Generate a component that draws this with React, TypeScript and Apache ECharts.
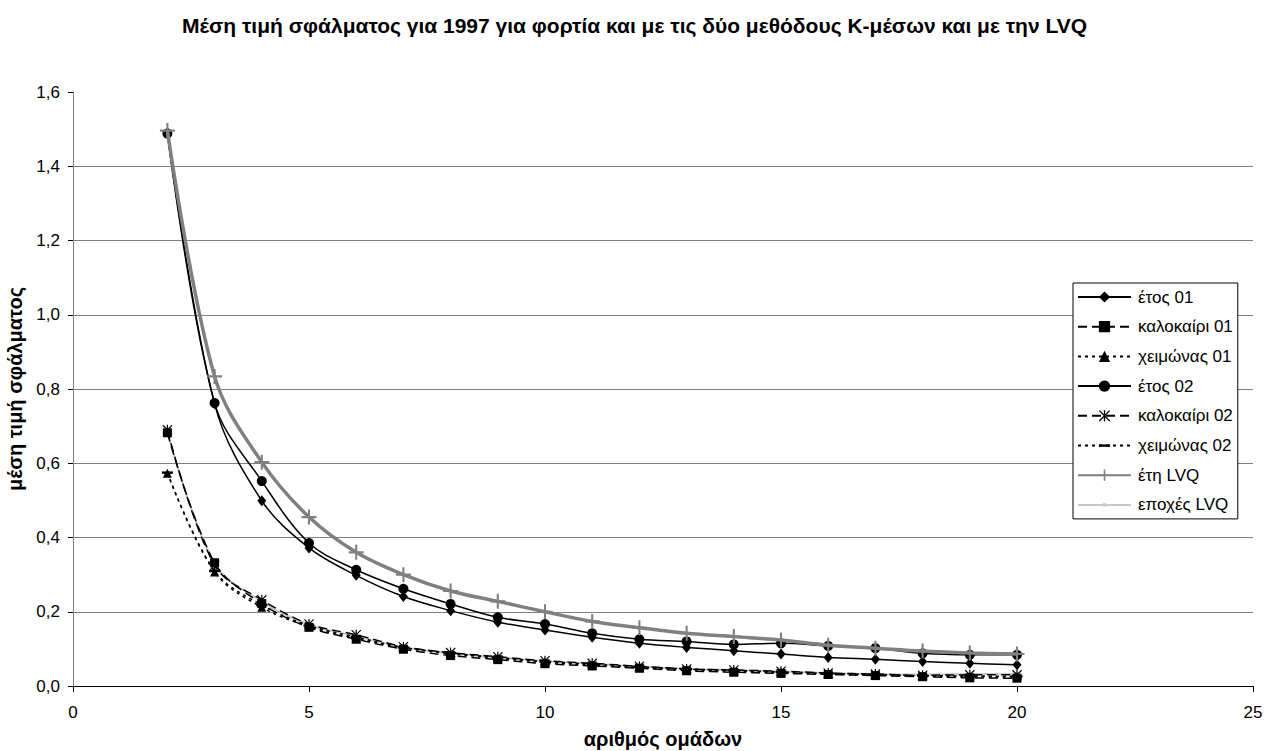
import React, { useEffect, useRef } from "react";
import * as echarts from "echarts";

const titleText = "Μέση τιμή σφάλματος για 1997 για φορτία και με τις δύο μεθόδους Κ-μέσων και με την LVQ";
const xName = "αριθμός ομάδων";
const yName = "μέση τιμή σφάλματος";

const clusters = [2, 3, 4, 5, 6, 7, 8, 9, 10, 11, 12, 13, 14, 15, 16, 17, 18, 19, 20];

const etos01 = [1.49, 0.76, 0.499, 0.372, 0.298, 0.241, 0.203, 0.172, 0.151, 0.131, 0.115, 0.104, 0.095, 0.086, 0.077, 0.072, 0.066, 0.061, 0.057];
const kalokairi01 = [0.682, 0.332, 0.222, 0.158, 0.126, 0.099, 0.082, 0.071, 0.06, 0.054, 0.048, 0.041, 0.037, 0.034, 0.031, 0.028, 0.025, 0.022, 0.021];
const xeimonas01 = [0.573, 0.307, 0.212, 0.16, 0.128, 0.103, 0.087, 0.075, 0.064, 0.056, 0.049, 0.044, 0.04, 0.036, 0.032, 0.029, 0.027, 0.025, 0.024];
const etos02 = [1.488, 0.762, 0.552, 0.385, 0.313, 0.262, 0.221, 0.185, 0.167, 0.142, 0.126, 0.12, 0.112, 0.115, 0.108, 0.102, 0.088, 0.084, 0.084];
const kalokairi02 = [0.69, 0.325, 0.232, 0.167, 0.138, 0.106, 0.09, 0.079, 0.068, 0.061, 0.053, 0.046, 0.043, 0.04, 0.035, 0.032, 0.029, 0.03, 0.03];
const xeimonas02 = [0.575, 0.31, 0.218, 0.163, 0.132, 0.104, 0.089, 0.077, 0.066, 0.059, 0.052, 0.046, 0.042, 0.038, 0.034, 0.031, 0.028, 0.027, 0.026];
const etiLVQ = [1.496, 0.834, 0.603, 0.455, 0.36, 0.3, 0.256, 0.228, 0.2, 0.174, 0.157, 0.142, 0.133, 0.124, 0.11, 0.102, 0.094, 0.089, 0.086];
const epoxesLVQ = [0.685, 0.33, 0.228, 0.165, 0.134, 0.104, 0.088, 0.077, 0.067, 0.06, 0.052, 0.046, 0.043, 0.039, 0.035, 0.032, 0.031, 0.032, 0.033];

const xTicks = ["0", "5", "10", "15", "20", "25"];
const yTicks = ["0,0", "0,2", "0,4", "0,6", "0,8", "1,0", "1,2", "1,4", "1,6"];

const FONT = "'Liberation Sans', Arial, sans-serif";

const STAR = "path://M4.4 0 H5.6 V10 H4.4 Z M0 0.8 L0.8 0 L10 9.2 L9.2 10 Z M9.2 0 L10 0.8 L0.8 10 L0 9.2 Z";
const PLUS = "path://M4.3 0 H5.7 V4.3 H10 V5.7 H5.7 V10 H4.3 V5.7 H0 V4.3 H4.3 Z";
const BAR = "path://M0 0 M10 10 M0 4 H10 V6.2 H0 Z";
const DOT = "path://M0 0 M10 10 M3.5 3.5 H6.5 V6.5 H3.5 Z";

const pairs = (ys: number[]) => clusters.map((x, i) => [x, ys[i]]);

export default function App() {
  const ref = useRef<HTMLDivElement>(null);
  useEffect(() => {
    if (!ref.current) return;
    const chart = echarts.init(ref.current, undefined, { renderer: "svg" });
    const mk = (
      name: string,
      data: number[],
      color: string,
      width: number,
      type: any,
      symbol: string,
      symbolSize: any,
      z: number
    ) => ({
      name,
      type: "line",
      data: pairs(data),
      smooth: 0.35,
      symbol,
      symbolSize,
      showSymbol: true,
      z,
      lineStyle: { color, width, type },
      itemStyle: { color, borderWidth: 0 },
      emphasis: { disabled: true },
    });
    chart.setOption({
      animation: false,
      backgroundColor: "#ffffff",
      textStyle: { fontFamily: FONT },
      title: {
        text: titleText,
        left: "center",
        top: 10,
        textStyle: { fontFamily: FONT, fontSize: 21, fontWeight: "bold", color: "#000" },
      },
      grid: { left: 73, right: 16, top: 92, bottom: 65, outerBoundsMode: "none", containLabel: false },
      legend: {
        orient: "vertical",
        left: 1073,
        top: 283,
        padding: [5, 5, 5, 4],
        itemWidth: 53,
        itemHeight: 14,
        itemGap: 11.7,
        borderColor: "#000",
        borderWidth: 1,
        backgroundColor: "#fff",
        textStyle: { fontFamily: FONT, fontSize: 17, color: "#000", lineHeight: 18, padding: [0, 0, 0, 2] },
        data: ["έτος 01", "καλοκαίρι 01", "χειμώνας 01", "έτος 02", "καλοκαίρι 02", "χειμώνας 02", "έτη LVQ", "εποχές LVQ"],
      },
      xAxis: {
        type: "value",
        min: 0,
        max: 25,
        interval: 5,
        name: xName,
        nameLocation: "middle",
        nameGap: 43,
        nameTextStyle: { fontFamily: FONT, fontSize: 20, fontWeight: "bold", color: "#000" },
        axisLine: { show: true, onZero: false, lineStyle: { color: "#000", width: 1 } },
        axisTick: { show: true, inside: false, length: 6, lineStyle: { color: "#000" } },
        axisLabel: {
          margin: 18,
          fontSize: 17,
          color: "#000",
          fontFamily: FONT,
          formatter: (v: number) => xTicks[Math.round(v / 5)] ?? String(v),
        },
        splitLine: { show: false },
      },
      yAxis: {
        type: "value",
        min: 0,
        max: 1.6,
        interval: 0.2,
        name: yName,
        nameLocation: "middle",
        nameGap: 46,
        nameRotate: 90,
        nameTextStyle: { fontFamily: FONT, fontSize: 20, fontWeight: "bold", color: "#000" },
        axisLine: { show: true, lineStyle: { color: "#808080", width: 1 } },
        axisTick: { show: true, inside: false, length: 5, lineStyle: { color: "#000" } },
        axisLabel: {
          margin: 13,
          fontSize: 17,
          color: "#000",
          fontFamily: FONT,
          formatter: (v: number) => yTicks[Math.round(v / 0.2)] ?? String(v),
        },
        splitLine: {
          show: true,
          lineStyle: {
            color: ["transparent", "#808080", "#808080", "#808080", "#808080", "#808080", "#808080", "#808080", "transparent"],
            width: 1,
          },
        },
      },
      series: [
        mk("εποχές LVQ", epoxesLVQ, "#c8c8c8", 2, "solid", DOT, 12, 1),
        mk("έτος 01", etos01, "#000", 1.5, "solid", "diamond", [9, 11], 2),
        mk("καλοκαίρι 01", kalokairi01, "#000", 1.5, [9, 5], "rect", 9, 2),
        mk("χειμώνας 01", xeimonas01, "#000", 1.5, [3, 4], "triangle", 9, 2),
        mk("έτος 02", etos02, "#000", 1.5, "solid", "circle", 10, 2),
        mk("καλοκαίρι 02", kalokairi02, "#000", 1.5, [9, 5], STAR, 10, 2),
        mk("χειμώνας 02", xeimonas02, "#000", 1.5, [3, 4], BAR, 11, 2),
        mk("έτη LVQ", etiLVQ, "#808080", 3.5, "solid", PLUS, 15, 3),
      ],
    });
    return () => chart.dispose();
  }, []);
  return (
    <div
      ref={ref}
      style={{ position: "fixed", left: 0, top: 0, width: 1269, height: 751, background: "#fff" }}
    />
  );
}
